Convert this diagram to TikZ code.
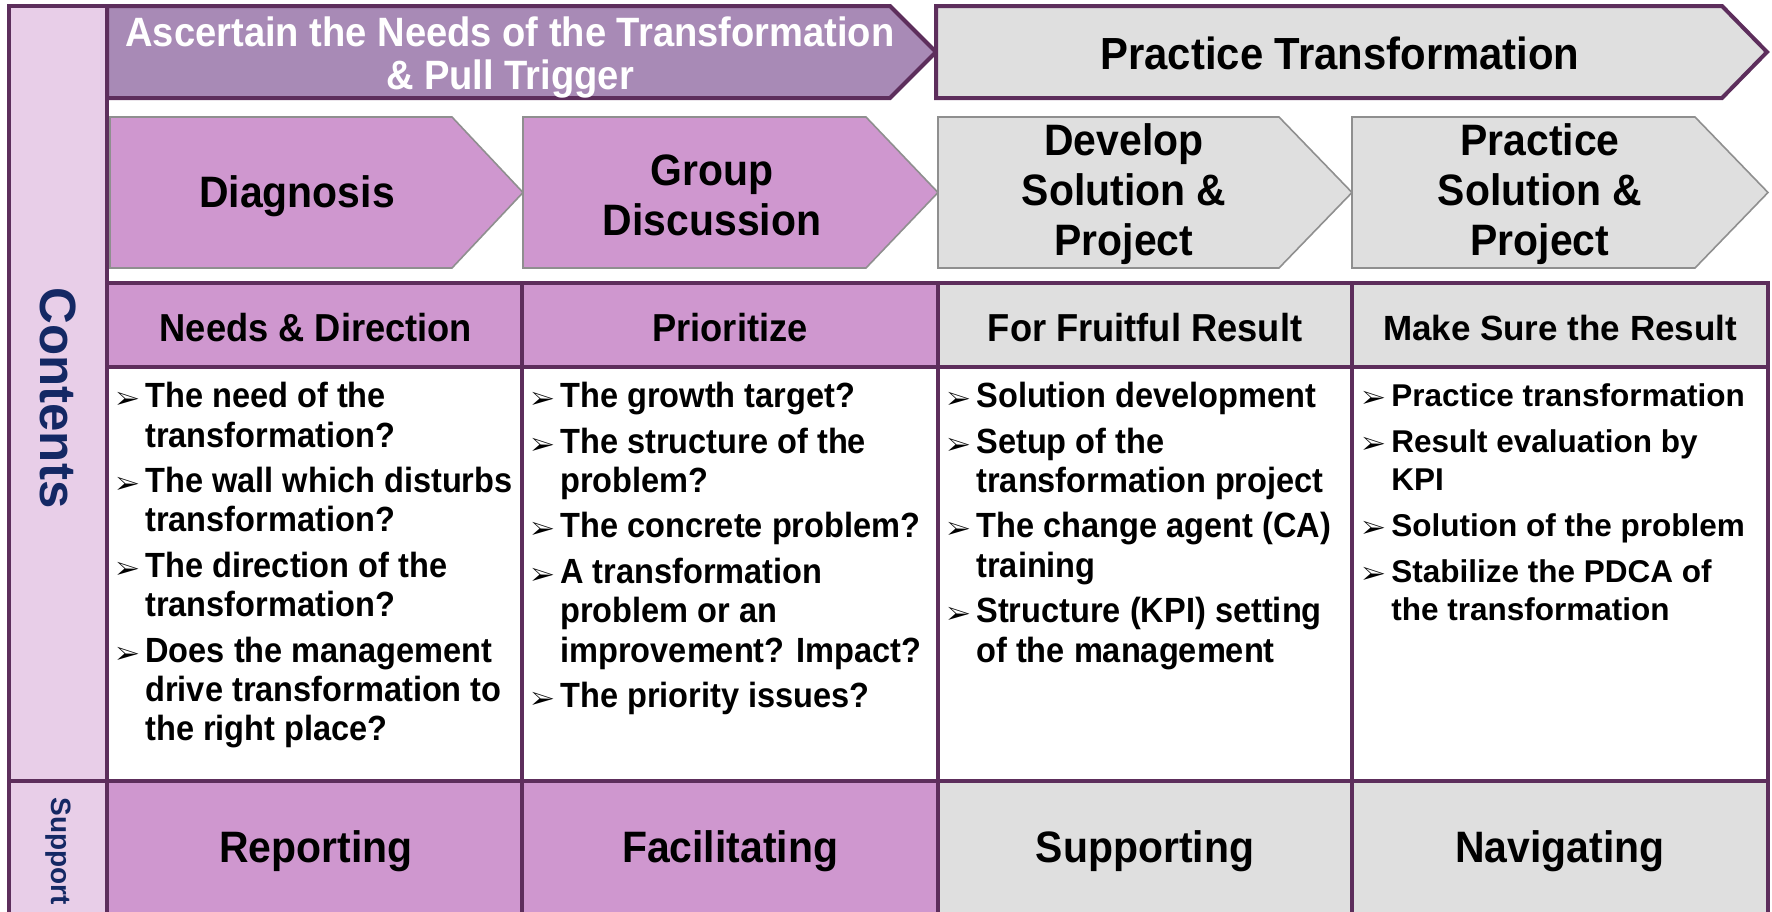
\documentclass[tikz,border=0pt]{standalone}
\usepackage{fontspec}
\setmainfont{Liberation Sans}
\newfontfamily\condfont[FakeStretch=0.93]{Liberation Sans}
\usepackage{pifont}
\usetikzlibrary{positioning}
\definecolor{frame}{RGB}{93,46,92}
\definecolor{plum}{RGB}{207,151,207}
\definecolor{mauve}{RGB}{168,138,182}
\definecolor{lilac}{RGB}{232,206,232}
\definecolor{greyfill}{RGB}{223,223,223}
\definecolor{chevedge}{RGB}{143,143,143}
\definecolor{navy}{RGB}{20,40,100}
% bullet and hanging indent for the lists
\newcommand{\itm}{\makebox[14.5pt][l]{\fontsize{12.5}{12.5}\selectfont\ding{226}}}
\newcommand{\ind}{\hspace*{14.5pt}}

\begin{document}
\begin{tikzpicture}[x=0.5pt, y=-0.5pt,
    grid/.style={draw=frame, line width=2.2pt},
    banner/.style={draw=frame, line width=2pt, line join=miter},
    chev/.style={draw=chevedge, line width=0.8pt},
    steptext/.style={font=\condfont\bfseries\fontsize{22}{25}\selectfont, align=center},
    headtext/.style={font=\condfont\bfseries\fontsize{19.5}{22}\selectfont},
    listtext/.style={anchor=north west, inner sep=0pt, align=left,
        font=\condfont\bfseries\fontsize{17.5}{19.7}\selectfont},
    sidetext/.style={text=navy, rotate=-90, font=\bfseries}]
    \useasboundingbox (0,0) rectangle (1772,911);
    \begin{scope}
    \clip (0,0) rectangle (1772,911);

    % Left column
    \draw[grid, fill=lilac] (9,6) rectangle (107,930);

    % Top banners
    \draw[banner, fill=mauve] (107,6) -- (890,6) -- (936,52) -- (890,98) -- (107,98) -- cycle;
    \draw[banner, fill=greyfill] (936,6) -- (1722,6) -- (1767,52) -- (1722,98) -- (936,98) -- cycle;
    \node[white, font=\condfont\bfseries\fontsize{20.5}{21.5}\selectfont, align=center] (needs) at (510,57)
        {Ascertain the Needs of the Transformation\\\& Pull Trigger};
    \node[font=\condfont\bfseries\fontsize{22.5}{25}\selectfont] (practice) at (1340,53) {Practice Transformation};

    % Step chevrons
    \draw[chev, fill=plum] (110,117) -- (452,117) -- (523,192.5) -- (452,268) -- (110,268) -- cycle;
    \draw[chev, fill=plum] (523,117) -- (866,117) -- (938,192.5) -- (866,268) -- (523,268) -- cycle;
    \draw[chev, fill=greyfill] (938,117) -- (1279,117) -- (1352,192.5) -- (1279,268) -- (938,268) -- cycle;
    \draw[chev, fill=greyfill] (1352,117) -- (1695,117) -- (1768,192.5) -- (1695,268) -- (1352,268) -- cycle;
    \node[steptext] (diag) at (297,196) {Diagnosis};
    \node[steptext] (group) at (712,195) {Group\\Discussion};
    \node[steptext] (develop) at (1124,194) {Develop\\Solution \&\\Project};
    \node[steptext] (solution) at (1540,194) {Practice\\Solution \&\\Project};

    % Table fills
    \fill[plum] (107,283) rectangle (938,367);
    \fill[greyfill] (938,283) rectangle (1768,367);
    \fill[plum] (107,781) rectangle (938,930);
    \fill[greyfill] (938,781) rectangle (1768,930);

    % Table grid
    \draw[grid] (107,283) rectangle (1768,930);
    \draw[grid] (107,367) -- (1768,367);
    \draw[grid] (9,781) -- (1768,781);
    \foreach \x in {522,938,1352}
        \draw[grid] (\x,283) -- (\x,930);

    % Column headers
    \node[headtext] (hneeds) at (316,328) {Needs \& Direction};
    \node[headtext] (hprio) at (730,328) {Prioritize};
    \node[headtext] (hfruit) at (1145,328) {For Fruitful Result};
    \node[font=\bfseries\fontsize{17.5}{20}\selectfont] (hsure) at (1560,328) {Make Sure the Result};

    % Column contents
    \node[listtext] (lneeds) at (116,382) {%
        \itm The need of the\\
        \ind transformation?\\[3pt]
        \itm The wall which disturbs\\
        \ind transformation?\\[3pt]
        \itm The direction of the\\
        \ind transformation?\\[3pt]
        \itm Does the management\\
        \ind drive transformation to\\
        \ind the right place?};
    \node[listtext] (lprio) at (531,382) {%
        \itm The growth target?\\[3pt]
        \itm The structure of the\\
        \ind problem?\\[3pt]
        \itm The concrete problem?\\[3pt]
        \itm A transformation\\
        \ind problem or an\\
        \ind improvement? Impact?\\[3pt]
        \itm The priority issues?};
    \node[listtext] (lfruit) at (947,382) {%
        \itm Solution development\\[3pt]
        \itm Setup of the\\
        \ind transformation project\\[3pt]
        \itm The change agent (CA)\\
        \ind training\\[3pt]
        \itm Structure (KPI) setting\\
        \ind of the management};
    \node[listtext, font=\bfseries\fontsize{15.75}{19}\selectfont] (lsure) at (1362,383) {%
        \itm Practice transformation\\[4pt]
        \itm Result evaluation by\\
        \ind KPI\\[4pt]
        \itm Solution of the problem\\[4pt]
        \itm Stabilize the PDCA of\\
        \ind the transformation};

    % Support row
    \node[steptext] (report) at (316,851) {Reporting};
    \node[steptext] (facil) at (730,851) {Facilitating};
    \node[steptext] (support) at (1145,851) {Supporting};
    \node[steptext] (navig) at (1560,851) {Navigating};

    % Side labels
    \node[sidetext, font=\bfseries\fontsize{25.5}{28}\selectfont] (contents) at (58,398) {Contents};
    \node[sidetext, font=\bfseries\fontsize{14}{16}\selectfont] (supp) at (58,851) {Support};
    \end{scope}
\end{tikzpicture}
\end{document}
